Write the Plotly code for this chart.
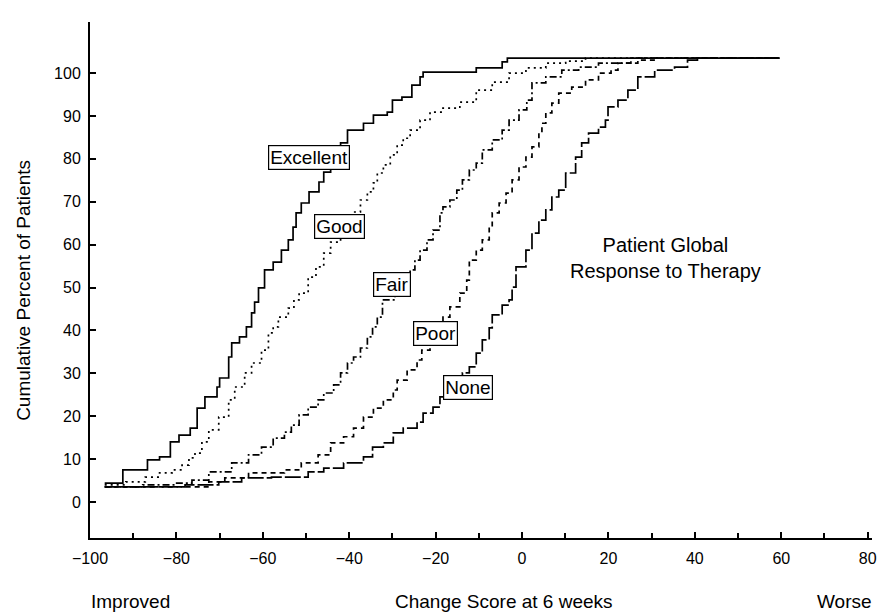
import plotly.graph_objects as go

# Empirical cumulative distributions of the 6-week change score,
# one step curve per patient global response group.
change_excellent = [-96.6, -93.6, -92.4, -86.7, -83.9, -81.4, -79.4, -76.8, -75.2, -73.4,
                    -70.6, -70.0, -67.9, -67.2, -65.4, -63.8, -62.6, -61.9, -61.0, -59.6,
                    -57.6, -55.7, -54.1, -53.0, -52.3, -51.1, -49.3, -47.0, -45.9, -44.3,
                    -43.1, -42.0, -40.4, -36.7, -34.4, -31.2, -30.0, -27.8, -25.5, -23.6,
                    -22.9, -10.6, -4.6, -3.4, 59.6]
pct_excellent = [4.4, 4.4, 7.5, 9.8, 10.5, 14.0, 15.6, 17.2, 21.9, 24.5,
                 26.8, 28.9, 33.8, 37.1, 38.5, 40.8, 44.1, 46.6, 49.9, 54.1,
                 55.9, 58.7, 61.1, 64.1, 67.4, 69.7, 72.3, 74.6, 76.9, 79.7,
                 82.0, 83.7, 86.7, 88.3, 90.2, 90.9, 93.7, 94.4, 97.2, 99.1,
                 100.2, 101.2, 102.6, 103.5, 103.5]

change_good = [-96.6, -91.7, -87.2, -83.9, -81.0, -78.7, -77.1, -75.7, -74.1, -72.5,
               -70.2, -67.9, -66.5, -64.2, -62.6, -60.3, -58.7, -57.6, -56.4, -54.1,
               -52.8, -51.6, -49.5, -47.7, -45.9, -44.3, -42.0, -39.0, -37.4, -35.8,
               -34.4, -33.5, -32.1, -30.5, -28.9, -27.5, -25.9, -23.6, -21.3, -18.3,
               -14.4, -10.6, -6.9, -3.0, 0.9, 5.5, 10.1, 14.7, 59.6]
pct_good = [4.0, 4.7, 5.8, 6.8, 7.5, 8.6, 10.3, 11.4, 14.0, 16.8,
            19.8, 23.8, 26.8, 30.1, 32.4, 35.4, 39.4, 40.8, 43.1, 45.2,
            47.1, 48.7, 52.4, 54.8, 58.0, 60.6, 63.9, 67.6, 70.4, 72.3,
            74.4, 76.7, 78.6, 80.9, 83.2, 84.8, 86.7, 89.0, 90.9, 91.8,
            93.2, 96.0, 97.9, 100.0, 101.2, 102.3, 102.8, 103.5, 103.5]

change_fair = [-96.6, -87.8, -80.3, -76.4, -72.5, -67.2, -63.3, -60.3, -57.6, -55.0,
               -53.4, -51.6, -49.5, -47.2, -45.9, -43.6, -42.0, -40.4, -39.0, -37.4,
               -35.8, -34.6, -33.5, -32.3, -29.4, -25.9, -24.8, -23.6, -22.0, -20.6,
               -19.0, -18.3, -16.7, -15.1, -13.8, -12.2, -10.6, -9.2, -6.9, -4.6,
               -3.0, -0.7, 1.1, 2.3, 5.5, 9.2, 13.1, 17.7, 25.2, 59.6]
pct_fair = [3.5, 4.0, 4.4, 5.1, 7.0, 9.1, 11.0, 12.8, 14.9, 16.3,
            17.9, 20.3, 22.1, 23.8, 25.4, 27.3, 30.1, 32.4, 33.8, 35.9,
            38.5, 40.8, 43.1, 47.1, 50.6, 54.1, 56.4, 58.7, 61.1, 63.4,
            67.4, 68.8, 70.4, 72.7, 75.1, 77.4, 79.0, 82.1, 84.4, 86.7,
            89.0, 91.4, 93.7, 97.7, 99.1, 100.7, 101.4, 102.3, 103.5, 103.5]

change_poor = [-96.6, -72.5, -68.8, -63.3, -55.0, -51.1, -47.2, -44.3, -41.3, -39.0,
               -36.7, -34.4, -32.1, -29.8, -28.9, -26.6, -24.3, -23.2, -21.3, -18.3,
               -16.7, -14.4, -12.8, -12.2, -10.6, -9.2, -7.6, -6.9, -5.3, -3.7,
               -2.3, -0.7, 0.9, 2.3, 3.9, 4.6, 5.5, 6.9, 8.5, 11.5,
               14.7, 17.7, 20.6, 22.2, 26.8, 31.4, 59.6]
pct_poor = [3.5, 4.7, 5.6, 6.8, 7.5, 9.1, 11.0, 13.8, 15.2, 17.2,
            19.8, 21.9, 23.8, 26.1, 28.4, 30.8, 33.1, 35.4, 38.9, 43.1,
            45.5, 48.7, 51.7, 56.4, 58.7, 61.1, 64.1, 67.4, 69.7, 72.0,
            75.1, 78.1, 80.4, 82.8, 86.0, 88.3, 90.7, 93.0, 95.3, 96.7,
            98.4, 100.0, 100.7, 102.3, 103.0, 103.5, 103.5]

change_none = [-96.6, -78.0, -70.2, -64.9, -58.0, -49.5, -45.9, -41.3, -36.7, -34.6,
               -32.1, -29.8, -27.5, -24.3, -22.9, -20.6, -19.0, -16.7, -13.8, -12.2,
               -10.6, -9.2, -7.6, -6.9, -4.6, -3.0, -2.3, -1.4, 0.9, 2.3,
               3.9, 5.5, 6.9, 8.5, 10.1, 12.4, 13.8, 15.4, 17.7, 19.3,
               19.9, 22.2, 24.5, 26.8, 30.7, 35.3, 38.3, 40.6, 59.6]
pct_none = [3.5, 4.0, 4.7, 5.6, 5.8, 7.0, 7.9, 9.1, 10.5, 12.8,
            13.8, 16.1, 17.2, 18.6, 20.7, 22.1, 24.5, 26.8, 30.1, 31.5,
            34.7, 37.8, 40.6, 43.6, 45.9, 47.1, 50.1, 54.8, 58.7, 62.7,
            65.7, 68.1, 71.1, 72.7, 76.7, 80.4, 83.7, 86.0, 87.4, 89.0,
            92.1, 93.7, 96.0, 99.1, 100.7, 101.4, 103.0, 103.5, 103.5]

group_names = ["Excellent", "Good", "Fair", "Poor", "None"]
x_ticks = [-100, -80, -60, -40, -20, 0, 20, 40, 60, 80]
y_ticks = [0, 10, 20, 30, 40, 50, 60, 70, 80, 90, 100]

FONT = "Liberation Sans, Arial, Helvetica, sans-serif"

series = [
    (change_excellent, pct_excellent, "solid"),
    (change_good, pct_good, "2px,4px"),
    (change_fair, pct_fair, "7px,3px,2px,3px"),
    (change_poor, pct_poor, "5px,4px"),
    (change_none, pct_none, "16px,3px"),
]

fig = go.Figure()
for name, (xs, ys, dash) in zip(group_names, series):
    fig.add_trace(go.Scatter(
        x=xs, y=ys, name=name, mode="lines",
        line=dict(shape="hv", color="black", width=1.7, dash=dash),
        showlegend=False, hoverinfo="skip",
    ))

# Boxed group labels sitting on their curves
label_pos = {
    "Excellent": (-49.2, 80.4),
    "Good": (-42.3, 64.3),
    "Fair": (-30.1, 50.6),
    "Poor": (-20.0, 39.2),
    "None": (-12.6, 26.8),
}
for name in group_names:
    lx, ly = label_pos[name]
    fig.add_annotation(
        x=lx, y=ly, xref="x", yref="y", text=name, showarrow=False,
        font=dict(family=FONT, size=19, color="black"),
        bgcolor="white", bordercolor="black", borderwidth=1.2, borderpad=1,
    )


def caption(text, x, y, size, angle=0):
    fig.add_annotation(
        x=x, y=y, xref="paper", yref="paper", text=text, showarrow=False,
        xanchor="center", yanchor="middle", textangle=angle, align="center",
        font=dict(family=FONT, size=size, color="black"),
    )


caption("Patient Global<br>Response to Therapy", 0.736, 0.543, 20)
caption("Change Score at 6 weeks", 0.53, -0.124, 19)
caption("Improved", 0.052, -0.124, 19)
caption("Worse", 0.965, -0.124, 19)
caption("Cumulative Percent of Patients", -0.085, 0.48, 19, angle=-90)

fig.update_xaxes(
    range=[-100, 81], tickvals=x_ticks, ticks="inside", ticklen=6,
    tickwidth=1.5, tickcolor="black",
    minor=dict(dtick=10, tick0=0, ticks="inside", ticklen=5, tickcolor="black"),
    showline=True, linecolor="black", linewidth=2, showgrid=False,
    zeroline=False, ticklabelstandoff=5,
    tickfont=dict(family=FONT, size=16, color="black"),
)
fig.update_yaxes(
    range=[-8.4, 111.9], tickvals=y_ticks, ticks="inside", ticklen=6,
    tickwidth=1.5, tickcolor="black",
    showline=True, linecolor="black", linewidth=2, showgrid=False,
    zeroline=False, ticklabelstandoff=4,
    tickfont=dict(family=FONT, size=16, color="black"),
)
fig.update_layout(
    width=882, height=615,
    margin=dict(l=90, r=5, t=22, b=77),
    plot_bgcolor="white", paper_bgcolor="white",
)

fig.write_html("out.html")
